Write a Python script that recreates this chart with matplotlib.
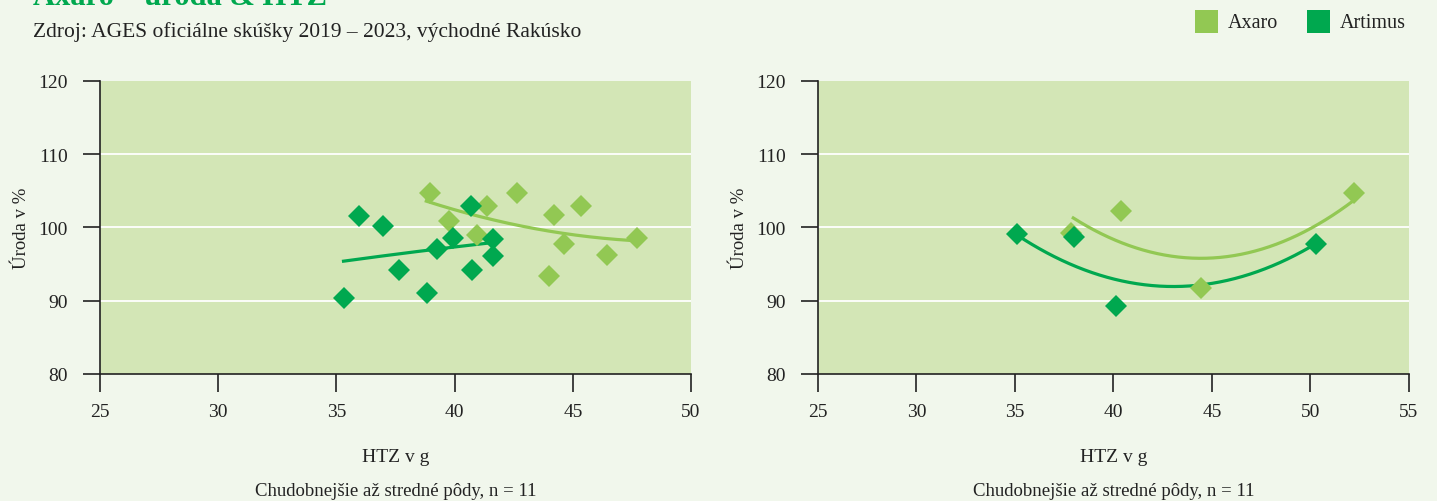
import matplotlib.pyplot as plt
import numpy as np

BG = "#f1f7ec"
PLOT_BG = "#d3e6b6"
AXARO_C = "#92c853"
ARTIMUS_C = "#00a84f"

# left panel
left_axaro_x = [38.95, 39.75, 41.38, 40.96, 42.63, 44.22, 45.33, 44.63, 43.99, 46.43, 47.73]
left_axaro_y = [104.7, 100.9, 103.0, 99.0, 104.7, 101.7, 102.9, 97.8, 93.4, 96.3, 98.6]
left_artimus_x = [35.32, 35.96, 36.98, 37.64, 38.82, 39.24, 39.92, 40.69, 40.74, 41.64, 41.64]
left_artimus_y = [90.4, 101.6, 100.2, 94.2, 91.1, 97.1, 98.5, 102.9, 94.2, 98.4, 96.1]
# trend lines (start, middle, end)
left_axaro_trend_x = [38.8, 43.3, 47.6]
left_axaro_trend_y = [103.6, 99.9, 98.2]
left_artimus_trend_x = [35.3, 38.5, 41.5]
left_artimus_trend_y = [95.4, 96.75, 97.9]

# right panel
right_axaro_x = [37.84, 40.38, 44.44, 52.2]
right_axaro_y = [99.3, 102.2, 91.8, 104.7]
right_artimus_x = [35.09, 38.0, 40.13, 50.28]
right_artimus_y = [99.1, 98.7, 89.3, 97.8]
right_axaro_trend_x = [37.96, 44.2, 52.1]
right_axaro_trend_y = [101.3, 95.8, 103.5]
right_artimus_trend_x = [35.09, 43.3, 50.28]
right_artimus_trend_y = [99.0, 91.95, 97.8]

y_ticks = [80, 90, 100, 110, 120]
left_x_ticks = [25, 30, 35, 40, 45, 50]
right_x_ticks = [25, 30, 35, 40, 45, 50, 55]

FONT = "Liberation Serif"
plt.rcParams["font.family"] = [FONT, "DejaVu Serif"]
TXT = "#222222"

fig = plt.figure(figsize=(14.37, 5.02), dpi=100, facecolor=BG)


def trend(ax, tx, ty, color):
    c = np.polyfit(tx, ty, 2)
    xx = np.linspace(tx[0], tx[-1], 200)
    ax.plot(xx, np.polyval(c, xx), color=color, lw=2.3, zorder=2)


def panel(rect, series, xticks):
    ax = fig.add_axes(rect)
    ax.set_facecolor(PLOT_BG)
    ax.set_xlim(xticks[0], xticks[-1])
    ax.set_ylim(80, 120)
    for g in [90, 100, 110]:
        ax.axhline(g, color="white", lw=1.3, zorder=1)
    for xs, ys, tx, ty, col in series:
        ax.plot(xs, ys, "D", color=col, ms=11.5, mew=0, zorder=3)
    for xs, ys, tx, ty, col in series:
        trend(ax, tx, ty, col)
    for s in ["top", "right"]:
        ax.spines[s].set_visible(False)
    for s in ["left", "bottom"]:
        ax.spines[s].set_linewidth(1.2)
        ax.spines[s].set_color(TXT)
    ax.set_xticks(xticks)
    ax.set_yticks(y_ticks)
    ax.tick_params(axis="y", direction="out", length=12, width=1.2, pad=11,
                   labelsize=14, colors=TXT)
    ax.tick_params(axis="x", direction="out", length=13, width=1.2, pad=8,
                   labelsize=14, colors=TXT)
    ax.set_xlabel("HTZ v g", fontsize=14, labelpad=20, color=TXT)
    ax.set_ylabel("Úroda v %", fontsize=13.5, labelpad=6, color=TXT)
    ax.text(0.5, -0.397, "Chudobnejšie až stredné pôdy, n = 11", transform=ax.transAxes,
            ha="center", va="center", fontsize=13.5, color=TXT)
    return ax


panel([0.0696, 0.253, 0.4113, 0.5837],
      [(left_axaro_x, left_axaro_y, left_axaro_trend_x, left_axaro_trend_y, AXARO_C),
       (left_artimus_x, left_artimus_y, left_artimus_trend_x, left_artimus_trend_y, ARTIMUS_C)],
      left_x_ticks)
panel([0.5692, 0.253, 0.4113, 0.5837],
      [(right_axaro_x, right_axaro_y, right_axaro_trend_x, right_axaro_trend_y, AXARO_C),
       (right_artimus_x, right_artimus_y, right_artimus_trend_x, right_artimus_trend_y, ARTIMUS_C)],
      right_x_ticks)

fig.text(0.023, 0.99, "Axaro – úroda & HTZ", fontsize=22, fontweight="bold",
         color=ARTIMUS_C, ha="left", va="baseline")
fig.text(0.023, 0.936, "Zdroj: AGES oficiálne skúšky 2019 – 2023, východné Rakúsko",
         fontsize=15.5, color=TXT, ha="left", va="center")

# legend
for x0, label, col in [(0.8315, "Axaro", AXARO_C), (0.9095, "Artimus", ARTIMUS_C)]:
    fig.patches.append(plt.Rectangle((x0, 0.932), 0.016, 0.046, transform=fig.transFigure,
                                     facecolor=col, edgecolor="none"))
    fig.text(x0 + 0.0230, 0.953, label, fontsize=14.5, color=TXT, ha="left", va="center")

fig.savefig("out.png", dpi=100, facecolor=BG)
